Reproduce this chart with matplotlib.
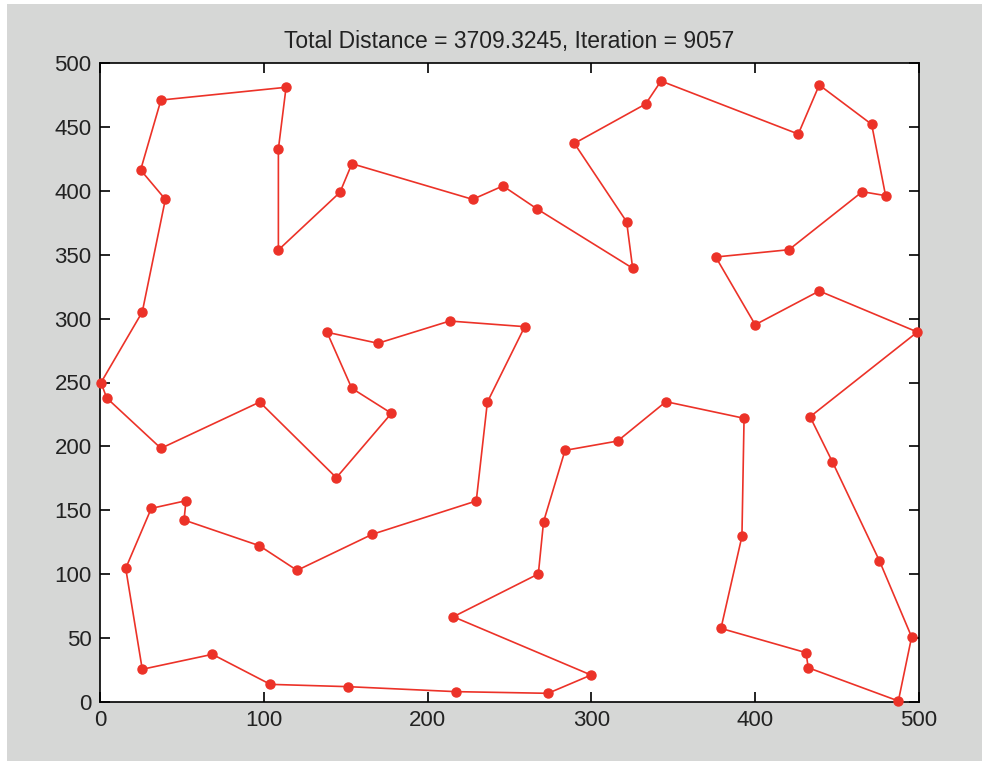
import matplotlib
matplotlib.use("Agg")
import matplotlib.pyplot as plt
from matplotlib.patches import Rectangle

# Tour order of the cities (closed loop)
city_x = [0.6, 25.8, 39.9, 24.8, 37.2, 113.6, 108.9, 108.9, 146.5, 153.8,
          227.5, 246.0, 266.6, 325.2, 321.5, 289.6, 333.1, 342.5, 426.3, 439.1,
          471.1, 479.6, 465.4, 420.6, 375.9, 400.0, 439.1, 499.0, 433.5, 447.1,
          475.8, 495.5, 487.4, 432.4, 431.0, 379.1, 391.9, 393.2, 345.5, 316.0,
          283.9, 270.8, 267.6, 215.7, 299.8, 273.5, 217.2, 151.4, 104.0, 68.6,
          25.8, 15.7, 31.3, 52.5, 51.3, 97.3, 120.3, 166.2, 229.7, 236.5,
          259.3, 213.5, 169.7, 138.6, 153.7, 177.9, 144.3, 97.5, 37.2, 4.1]
city_y = [249.9, 305.2, 393.3, 416.3, 471.0, 481.0, 432.7, 353.7, 398.8, 421.2,
          393.3, 403.8, 386.0, 339.4, 375.8, 437.1, 467.9, 485.9, 444.4, 482.8,
          452.0, 396.2, 399.3, 353.9, 348.2, 295.2, 321.6, 289.5, 223.2, 188.0,
          110.6, 50.9, 0.8, 26.8, 38.6, 57.6, 129.6, 222.0, 235.0, 204.2,
          196.9, 141.1, 100.2, 66.7, 21.1, 6.8, 8.1, 12.0, 13.8, 37.3,
          25.6, 104.6, 151.5, 157.5, 142.4, 122.3, 103.0, 131.2, 157.3, 234.7,
          293.7, 298.1, 280.7, 289.3, 245.5, 225.9, 175.5, 234.7, 198.5, 237.9]

total_distance = "3709.3245"
iteration = 9057

x_ticks = [0, 100, 200, 300, 400, 500]
y_ticks = [0, 50, 100, 150, 200, 250, 300, 350, 400, 450, 500]

plt.rcParams['font.family'] = ['Liberation Sans', 'DejaVu Sans']

W, H = 982, 761
fig = plt.figure(figsize=(W / 100, H / 100), dpi=100)
fig.patch.set_facecolor('white')
# grey window area, leaving a thin white margin on the top and left
fig.patches.append(Rectangle((7 / W, 0), 1 - 7 / W, 1 - 4 / H,
                             transform=fig.transFigure, facecolor='#d6d7d6',
                             edgecolor='none', zorder=-10))

ax = fig.add_axes([100 / W, (H - 702) / H, 819 / W, 639 / H])
ax.set_zorder(5)
ax.set_facecolor('white')

loop_x = city_x + [city_x[0]]
loop_y = city_y + [city_y[0]]
red = '#ec3228'
ax.plot(loop_x, loop_y, '-', color=red, lw=1.2, zorder=2, clip_on=False)
ax.plot(city_x, city_y, 'o', color=red, ms=6.5, mec=red, zorder=3, clip_on=False)

ax.set_xlim(0, 500)
ax.set_ylim(0, 500)
ax.set_xticks(x_ticks)
ax.set_yticks(y_ticks)
ax.tick_params(direction='in', length=7, width=1.2, top=True, right=True,
               labelsize=16, pad=6, colors='black', labelcolor='#222222')
for s in ax.spines.values():
    s.set_linewidth(1.2)

ax.set_title(f"Total Distance = {total_distance}, Iteration = {iteration}",
             fontsize=16.5, pad=11, color='#222222')

fig.savefig("out.png", dpi=100, facecolor=fig.get_facecolor())
